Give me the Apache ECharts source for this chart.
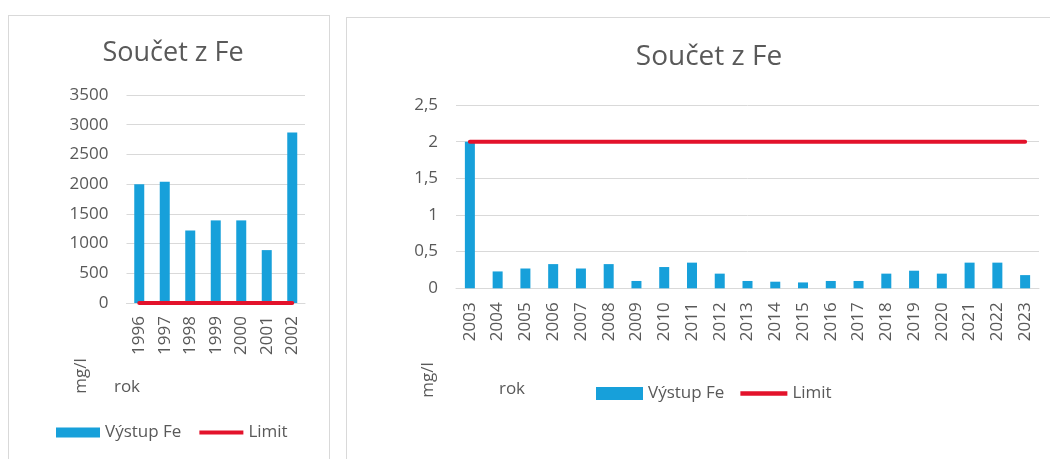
<!DOCTYPE html>
<html>
<head>
<meta charset="utf-8">
<script src="https://cdn.jsdelivr.net/npm/echarts@6/dist/echarts.min.js"></script>
<style>
  html, body { margin: 0; padding: 0; background: #ffffff; }
  #wrap { position: relative; width: 1050px; height: 459px; overflow: hidden; }
  .frame { position: absolute; border: 1px solid #d9d9d9; box-sizing: border-box; }
  #chart { position: absolute; left: 0; top: 0; width: 1050px; height: 459px; }
</style>
</head>
<body>
<div id="wrap">
  <div class="frame" style="left:8px; top:15px; width:322px; height:460px;"></div>
  <div class="frame" style="left:346px; top:17px; width:720px; height:460px;"></div>
  <div id="chart"></div>
</div>
<script>
// ---- data ----
const chartTitle = 'Součet z Fe';
const seriesFeName = 'Výstup Fe';
const seriesLimitName = 'Limit';
const yAxisTitle = 'mg/l';
const xAxisTitle = 'rok';

const leftYears = ['1996', '1997', '1998', '1999', '2000', '2001', '2002'];
const leftFe = [2000, 2040, 1220, 1390, 1390, 890, 2870];
const leftLimit = [2, 2, 2, 2, 2, 2, 2];
const leftYTicks = [0, 500, 1000, 1500, 2000, 2500, 3000, 3500];

const rightYears = ['2003', '2004', '2005', '2006', '2007', '2008', '2009', '2010', '2011', '2012',
  '2013', '2014', '2015', '2016', '2017', '2018', '2019', '2020', '2021', '2022', '2023'];
const rightFe = [2.0, 0.23, 0.27, 0.33, 0.27, 0.33, 0.10, 0.29, 0.35, 0.20,
  0.10, 0.09, 0.08, 0.10, 0.10, 0.20, 0.24, 0.20, 0.35, 0.35, 0.18];
const rightLimit = [2, 2, 2, 2, 2, 2, 2, 2, 2, 2, 2, 2, 2, 2, 2, 2, 2, 2, 2, 2, 2];
const rightYTicks = ['0', '0,5', '1', '1,5', '2', '2,5'];

// ---- styles ----
const FONT = '"Open Sans", "Noto Sans", sans-serif';
const TXT = '#595959';
const GRID = '#d9d9d9';
const BLUE = '#17a0da';
const RED = '#e3122b';
const LINE_ICON = 'path://M0,0 L44,0 L44,4 L0,4 Z';

const chart = echarts.init(document.getElementById('chart'), null, { renderer: 'canvas' });

function yAxisBase(gridIndex, max, interval, formatter) {
  return {
    type: 'value', gridIndex: gridIndex, min: 0, max: max, interval: interval,
    axisLine: { show: false }, axisTick: { show: false },
    splitLine: { lineStyle: { color: GRID, width: 1 } },
    axisLabel: { color: TXT, fontFamily: FONT, fontSize: 17, margin: 18, formatter: formatter }
  };
}
function xAxisBase(gridIndex, data, fontSize, margin) {
  return {
    type: 'category', gridIndex: gridIndex, data: data,
    axisLine: { lineStyle: { color: GRID, width: 1 } },
    axisTick: { show: false },
    axisLabel: { color: TXT, fontFamily: FONT, fontSize: fontSize, rotate: 90, interval: 0, margin: margin }
  };
}
function legendBase(left, top, w, h, gap) {
  return {
    data: [{ name: seriesFeName, icon: 'rect' }, { name: seriesLimitName, icon: LINE_ICON }],
    left: left, top: top, padding: 0, itemWidth: w, itemHeight: h, itemGap: gap,
    symbolKeepAspect: true,
    textStyle: { color: TXT, fontFamily: FONT, fontSize: 17 }
  };
}

const option = {
  animation: false,
  backgroundColor: 'transparent',
  title: [
    { text: chartTitle, left: 168, top: 35, textAlign: 'center',
      textStyle: { color: TXT, fontFamily: FONT, fontSize: 27, fontWeight: 'normal' } },
    { text: chartTitle, left: 704, top: 38, textAlign: 'center',
      textStyle: { color: TXT, fontFamily: FONT, fontSize: 28, fontWeight: 'normal' } }
  ],
  legend: [
    legendBase(56, 424, 44, 10, 18),
    legendBase(596, 385, 47, 13, 16)
  ],
  grid: [
    { left: 126.5, top: 95, width: 178.5, height: 208 },
    { left: 456, top: 105, width: 583, height: 183.3 }
  ],
  xAxis: [
    xAxisBase(0, leftYears, 17, 13),
    xAxisBase(1, rightYears, 17, 14)
  ],
  yAxis: [
    yAxisBase(0, leftYTicks[leftYTicks.length - 1], leftYTicks[1] - leftYTicks[0], v => String(v)),
    yAxisBase(1, 2.5, 0.5, v => rightYTicks[Math.round(v / 0.5)])
  ],
  series: [
    { name: seriesFeName, type: 'bar', xAxisIndex: 0, yAxisIndex: 0, data: leftFe,
      barWidth: 10, itemStyle: { color: BLUE } },
    { name: seriesLimitName, type: 'line', xAxisIndex: 0, yAxisIndex: 0, data: leftLimit,
      symbol: 'none', lineStyle: { color: RED, width: 4, cap: 'round' }, itemStyle: { color: RED } },
    { name: seriesFeName, type: 'bar', xAxisIndex: 1, yAxisIndex: 1, data: rightFe,
      barWidth: 10, itemStyle: { color: BLUE } },
    { name: seriesLimitName, type: 'line', xAxisIndex: 1, yAxisIndex: 1, data: rightLimit,
      symbol: 'none', lineStyle: { color: RED, width: 4, cap: 'round' }, itemStyle: { color: RED } }
  ],
  graphic: [
    { type: 'text', x: 81, y: 376, rotation: Math.PI / 2,
      style: { text: yAxisTitle, fill: TXT, font: '17px ' + FONT, textAlign: 'center', textVerticalAlign: 'middle' } },
    { type: 'text', x: 127, y: 387,
      style: { text: xAxisTitle, fill: TXT, font: '17px ' + FONT, textAlign: 'center', textVerticalAlign: 'middle' } },
    { type: 'text', x: 428, y: 380, rotation: Math.PI / 2,
      style: { text: yAxisTitle, fill: TXT, font: '17px ' + FONT, textAlign: 'center', textVerticalAlign: 'middle' } },
    { type: 'text', x: 512, y: 389,
      style: { text: xAxisTitle, fill: TXT, font: '17px ' + FONT, textAlign: 'center', textVerticalAlign: 'middle' } }
  ]
};
chart.setOption(option);
</script>
</body>
</html>
